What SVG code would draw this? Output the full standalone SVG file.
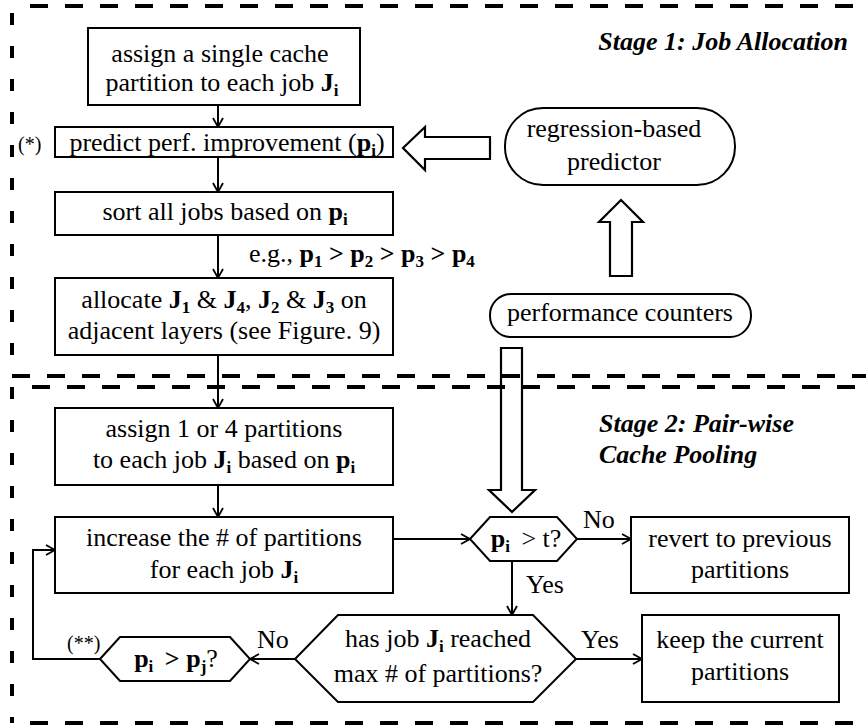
<svg xmlns="http://www.w3.org/2000/svg" width="866" height="725" viewBox="0 0 866 725">
<defs>
<style>
.t{font-family:"Liberation Serif","Times New Roman",serif;font-size:26px;fill:#000}
.c{text-anchor:middle}
.b{font-weight:bold}
.s{font-size:17px;font-weight:bold}
.sm{font-size:20px}
.title{font-weight:bold;font-style:italic;font-size:26px}
.box{fill:#fff;stroke:#000;stroke-width:2}
.ln{fill:none;stroke:#000;stroke-width:2}
.hd{fill:none;stroke:#000;stroke-width:2.2}
.dh{stroke:#000;stroke-width:4;stroke-dasharray:18 17}
.dv{stroke:#000;stroke-width:4;stroke-dasharray:12 21}
</style>
<marker id="ar" markerUnits="userSpaceOnUse" markerWidth="12" markerHeight="12" refX="10" refY="6" orient="auto">
<path d="M1,1 L10,6 L1,11" fill="none" stroke="#000" stroke-width="1.8"/>
</marker>
</defs>
<rect width="866" height="725" fill="#fff"/>
<g font-family="Liberation Serif, Times New Roman, serif" font-size="26" class="t">
<g id="stage-borders">
<line class="dh" x1="30" y1="6" x2="866" y2="6"/>
<line class="dv" x1="12" y1="13" x2="12" y2="376"/>
<line class="dh" x1="12" y1="376" x2="866" y2="376"/>
<line class="dh" x1="32" y1="387" x2="866" y2="387"/>
<line class="dv" x1="12" y1="387" x2="12" y2="723"/>
<line class="dh" x1="30" y1="723" x2="866" y2="723"/>
</g>
<g id="titles">
<text class="t title" x="848" y="50" text-anchor="end">Stage 1: Job Allocation</text>
<text class="t title" x="599" y="432">Stage 2: Pair-wise</text>
<text class="t title" x="599" y="463">Cache Pooling</text>
</g>
<g id="connectors">
<line class="ln" x1="218" y1="105" x2="218" y2="127" marker-end="url(#ar)"/>
<line class="ln" x1="218" y1="157" x2="218" y2="192" marker-end="url(#ar)"/>
<line class="ln" x1="218" y1="235" x2="218" y2="278" marker-end="url(#ar)"/>
<line class="ln" x1="218" y1="355" x2="218" y2="408" marker-end="url(#ar)"/>
<line class="ln" x1="218" y1="485" x2="218" y2="517" marker-end="url(#ar)"/>
<line class="ln" x1="393" y1="539" x2="470" y2="539" marker-end="url(#ar)"/>
<line class="ln" x1="577" y1="539" x2="631" y2="539" marker-end="url(#ar)"/>
<line class="ln" x1="512" y1="561" x2="512" y2="615" marker-end="url(#ar)"/>
<line class="ln" x1="576" y1="659" x2="642" y2="659" marker-end="url(#ar)"/>
<line class="ln" x1="295" y1="659" x2="250" y2="659" marker-end="url(#ar)"/>
<polyline class="ln" points="100,659 33,659 33,550 55,550" marker-end="url(#ar)"/>
<polygon class="hd" points="403,148 425,127 425,137 490,137 490,159 425,159 425,170"/>
<polygon class="hd" points="621,200 643,222 632,222 632,276 610,276 610,222 599,222"/>
<polygon class="hd" points="512,512 535,490 522,490 522,348 501,348 501,490 489,490"/>
<text class="t" x="249" y="262">e.g., <tspan class="b">p</tspan><tspan class="s" dy="5">1</tspan><tspan class="b" dy="-5"> &gt; p</tspan><tspan class="s" dy="5">2</tspan><tspan class="b" dy="-5"> &gt; p</tspan><tspan class="s" dy="5">3</tspan><tspan class="b" dy="-5"> &gt; p</tspan><tspan class="s" dy="5">4</tspan></text>
<text class="t" x="583" y="528">No</text>
<text class="t" x="526" y="593">Yes</text>
<text class="t" x="581" y="648">Yes</text>
<text class="t" x="257" y="648">No</text>
<text class="t sm" x="67" y="650">(**)</text>
</g>
<g id="n-assign-single">
<rect class="box" x="88" y="28" width="272" height="77"/>
<text class="t c" x="220" y="62">assign a single cache</text>
<text class="t c" x="222" y="91">partition to each job <tspan class="b">J</tspan><tspan class="s" dy="5">i</tspan></text>
</g>
<g id="n-predict">
<rect class="box" x="55" y="127" width="338" height="30"/>
<text class="t c" x="227" y="151">predict perf. improvement (<tspan class="b">p</tspan><tspan class="s" dy="5">i</tspan><tspan dy="-5">)</tspan></text>
<text class="t sm" x="18" y="151">(*)</text>
</g>
<g id="n-sort">
<rect class="box" x="55" y="192" width="338" height="43"/>
<text class="t c" x="225" y="220">sort all jobs based on <tspan class="b">p</tspan><tspan class="s" dy="5">i</tspan></text>
</g>
<g id="n-allocate">
<rect class="box" x="55" y="278" width="338" height="77"/>
<text class="t c" x="224" y="308">allocate <tspan class="b">J</tspan><tspan class="s" dy="5">1</tspan><tspan dy="-5"> &amp; </tspan><tspan class="b">J</tspan><tspan class="s" dy="5">4</tspan><tspan dy="-5">, </tspan><tspan class="b">J</tspan><tspan class="s" dy="5">2</tspan><tspan dy="-5"> &amp; </tspan><tspan class="b">J</tspan><tspan class="s" dy="5">3</tspan><tspan dy="-5"> on</tspan></text>
<text class="t c" x="224" y="339">adjacent layers (see Figure. 9)</text>
</g>
<g id="n-assign-1or4">
<rect class="box" x="55" y="408" width="338" height="77"/>
<text class="t c" x="224" y="437">assign 1 or 4 partitions</text>
<text class="t c" x="224" y="468">to each job <tspan class="b">J</tspan><tspan class="s" dy="5">i</tspan><tspan dy="-5"> based on </tspan><tspan class="b">p</tspan><tspan class="s" dy="5">i</tspan></text>
</g>
<g id="n-increase">
<rect class="box" x="55" y="517" width="338" height="76"/>
<text class="t c" x="224" y="546">increase the # of partitions</text>
<text class="t c" x="224" y="578">for each job <tspan class="b">J</tspan><tspan class="s" dy="5">i</tspan></text>
</g>
<g id="n-pt">
<polygon class="box" points="470,539 490,517 557,517 577,539 557,561 490,561"/>
<text class="t c" x="526" y="547"><tspan class="b">p</tspan><tspan class="s" dy="5">i</tspan><tspan dy="-5" dx="5"> &gt; t?</tspan></text>
</g>
<g id="n-revert">
<rect class="box" x="631" y="517" width="218" height="76"/>
<text class="t c" x="740" y="547">revert to previous</text>
<text class="t c" x="740" y="578">partitions</text>
</g>
<g id="n-max">
<polygon class="box" points="295,659 338,615 533,615 576,659 533,702 338,702"/>
<text class="t c" x="438" y="647">has job <tspan class="b">J</tspan><tspan class="s" dy="5">i</tspan><tspan dy="-5"> reached</tspan></text>
<text class="t c" x="438" y="682">max # of partitions?</text>
</g>
<g id="n-keep">
<rect class="box" x="642" y="615" width="197" height="87"/>
<text class="t c" x="740" y="648">keep the current</text>
<text class="t c" x="740" y="680">partitions</text>
</g>
<g id="n-pipj">
<polygon class="box" points="100,659 120,637 230,637 250,659 230,681 120,681"/>
<text class="t c" x="176" y="667"><tspan class="b">p</tspan><tspan class="s" dy="5">i</tspan><tspan class="b" dy="-5" dx="5"> &gt; p</tspan><tspan class="s" dy="5">j</tspan><tspan dy="-5">?</tspan></text>
</g>
<g id="n-predictor">
<rect class="box" x="505" y="108" width="230" height="77" rx="38" ry="38"/>
<text class="t c" x="614" y="137">regression-based</text>
<text class="t c" x="614" y="170">predictor</text>
</g>
<g id="n-counters">
<rect class="box" x="490" y="294" width="261" height="43" rx="21" ry="21"/>
<text class="t c" x="620" y="321">performance counters</text>
</g>
</g>
</svg>
